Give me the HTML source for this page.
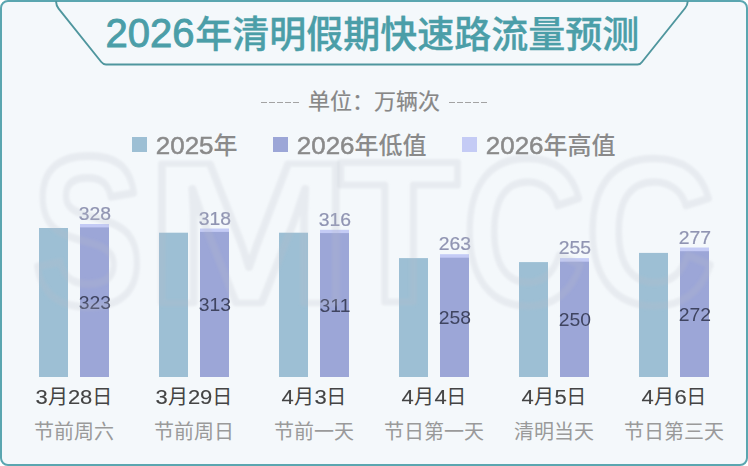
<!DOCTYPE html>
<html lang="zh-CN">
<head>
<meta charset="utf-8">
<title>2026年清明假期快速路流量预测</title>
<style>
*{margin:0;padding:0;box-sizing:border-box;}
html,body{width:748px;height:466px;overflow:hidden;background:#ffffff;}
body{position:relative;font-family:"Liberation Sans","Noto Sans CJK SC",sans-serif;}
.frame{position:absolute;left:0;top:0;width:748px;height:466px;border:2px solid #5aa6b0;border-radius:8px;background:#f4f8fb;}
svg.bg{position:absolute;left:0;top:0;}
.t{position:absolute;white-space:nowrap;line-height:1;}
.title{left:105.5px;top:13.5px;font-size:37px;font-weight:500;color:#4b9ea8;-webkit-text-stroke:0.35px #4b9ea8;}
.title .n0{font-size:40px;margin-right:0.7px;position:relative;top:-0.8px;-webkit-text-stroke:0.9px #4b9ea8;}
.title .n{letter-spacing:0px;}
.unit{left:308px;top:90.8px;font-size:22px;color:#878787;-webkit-text-stroke:0.2px #878787;}
.dash{position:absolute;top:101.7px;height:1.6px;width:38.4px;background:repeating-linear-gradient(90deg,#a3a3a3 0,#a3a3a3 6px,transparent 6px,transparent 8px);}
.leg{top:133.5px;font-size:24px;color:#8a8a8a;font-weight:500;}
.lr{display:inline-block;transform:scaleX(1.08);margin:0 2.1px;-webkit-text-stroke:0.5px #8a8a8a;}
.sq{position:absolute;width:15px;height:15px;}
.top,.in{font-size:17.6px;text-align:center;width:60px;transform:scaleX(1.1);}
.top{color:#9094b2;-webkit-text-stroke:0.2px #9094b2;}
.in{color:#3f4460;}

.date{font-size:20px;color:#444;font-weight:400;text-align:center;width:120px;}
.dr{display:inline-block;transform:scaleX(1.1);-webkit-text-stroke:0.12px #444;}
.sub{font-size:20px;color:#9a9a9a;text-align:center;width:120px;}
.wm{position:absolute;left:0;top:0;pointer-events:none;}
</style>
</head>
<body>
<div class="frame"></div>
<svg class="bg" width="748" height="466" viewBox="0 0 748 466">
  <path d="M56.2 1 L56.2 2.6 Q56.2 5.6 58.6 8.6 L101.3 62 Q103.3 64.5 106 64.5 L637.5 64.5 Q640.4 64.5 642 62 L685.2 8 Q687.6 5 687.6 2 L687.6 1" fill="none" stroke="#4f969e" stroke-width="1.9"/>
  <rect x="39" y="228.0" width="29" height="149.0" fill="#9dbfd4"/>
  <rect x="80" y="224.0" width="29" height="153.0" fill="#c4cbf5"/>
  <rect x="80" y="227.4" width="29" height="149.6" fill="#9ca6d7"/>
  <rect x="159" y="232.7" width="29" height="144.3" fill="#9dbfd4"/>
  <rect x="200" y="228.5" width="29" height="148.5" fill="#c4cbf5"/>
  <rect x="200" y="231.9" width="29" height="145.1" fill="#9ca6d7"/>
  <rect x="279" y="232.7" width="29" height="144.3" fill="#9dbfd4"/>
  <rect x="320" y="229.8" width="29" height="147.2" fill="#c4cbf5"/>
  <rect x="320" y="233.1" width="29" height="143.9" fill="#9ca6d7"/>
  <rect x="399" y="258.1" width="29" height="118.9" fill="#9dbfd4"/>
  <rect x="440" y="254.2" width="29" height="122.8" fill="#c4cbf5"/>
  <rect x="440" y="257.7" width="29" height="119.3" fill="#9ca6d7"/>
  <rect x="519" y="262.1" width="29" height="114.9" fill="#9dbfd4"/>
  <rect x="560" y="258.1" width="29" height="118.9" fill="#c4cbf5"/>
  <rect x="560" y="261.7" width="29" height="115.3" fill="#9ca6d7"/>
  <rect x="639" y="252.9" width="29" height="124.1" fill="#9dbfd4"/>
  <rect x="680" y="247.5" width="29" height="129.5" fill="#c4cbf5"/>
  <rect x="680" y="251.2" width="29" height="125.8" fill="#9ca6d7"/>
</svg>

<div class="t title"><span class="n0"><span class="n">202</span>6</span>年清明假期快速路流量预测</div>
<div class="dash" style="left:260.8px"></div>
<div class="t unit">单位：万辆次</div>
<div class="dash" style="left:449.3px"></div>

<div class="sq" style="left:132px;top:137px;background:#9dbfd4"></div>
<div class="t leg" style="left:156px"><span class="lr">2025</span>年</div>
<div class="sq" style="left:273px;top:137px;background:#9ca6d7"></div>
<div class="t leg" style="left:297px"><span class="lr">2026</span>年低值</div>
<div class="sq" style="left:462px;top:137px;background:#c4cbf5"></div>
<div class="t leg" style="left:486px"><span class="lr">2026</span>年高值</div>

<div class="t top" style="left:64.5px;top:206.2px">328</div>
<div class="t in" style="left:64.5px;top:295.1px">323</div>
<div class="t date" style="left:14.0px;top:387px"><span class="dr" style="margin:0 0.56px">3</span>月<span class="dr" style="margin:0 1.11px">28</span>日</div>
<div class="t sub" style="left:14.0px;top:421.7px">节前周六</div>
<div class="t top" style="left:184.5px;top:210.7px">318</div>
<div class="t in" style="left:184.5px;top:297.3px">313</div>
<div class="t date" style="left:134.0px;top:387px"><span class="dr" style="margin:0 0.56px">3</span>月<span class="dr" style="margin:0 1.11px">29</span>日</div>
<div class="t sub" style="left:134.0px;top:421.7px">节前周日</div>
<div class="t top" style="left:304.5px;top:212.0px">316</div>
<div class="t in" style="left:304.5px;top:297.9px">311</div>
<div class="t date" style="left:254.0px;top:387px"><span class="dr" style="margin:0 0.56px">4</span>月<span class="dr" style="margin:0 0.56px">3</span>日</div>
<div class="t sub" style="left:254.0px;top:421.7px">节前一天</div>
<div class="t top" style="left:424.5px;top:236.4px">263</div>
<div class="t in" style="left:424.5px;top:310.2px">258</div>
<div class="t date" style="left:374.0px;top:387px"><span class="dr" style="margin:0 0.56px">4</span>月<span class="dr" style="margin:0 0.56px">4</span>日</div>
<div class="t sub" style="left:374.0px;top:421.7px">节日第一天</div>
<div class="t top" style="left:544.5px;top:240.3px">255</div>
<div class="t in" style="left:544.5px;top:312.2px">250</div>
<div class="t date" style="left:494.0px;top:387px"><span class="dr" style="margin:0 0.56px">4</span>月<span class="dr" style="margin:0 0.56px">5</span>日</div>
<div class="t sub" style="left:494.0px;top:421.7px">清明当天</div>
<div class="t top" style="left:664.5px;top:229.7px">277</div>
<div class="t in" style="left:664.5px;top:307.0px">272</div>
<div class="t date" style="left:614.0px;top:387px"><span class="dr" style="margin:0 0.56px">4</span>月<span class="dr" style="margin:0 0.56px">6</span>日</div>
<div class="t sub" style="left:614.0px;top:421.7px">节日第三天</div>

<svg class="wm" width="748" height="466" viewBox="0 0 748 466">
 <defs><filter id="bl" x="-5%" y="-5%" width="110%" height="110%"><feGaussianBlur stdDeviation="1.2"/></filter></defs>
 <g filter="url(#bl)" font-family="Liberation Sans" font-weight="bold" fill="none" stroke-linejoin="round" stroke="rgba(185,190,198,0.21)">
  <text transform="translate(32.51 305.43) scale(0.8319 1.0674)" font-size="200" stroke-width="7.37">S</text>
  <text transform="translate(145.32 302.51) scale(1.2446 1.0146)" font-size="200" stroke-width="6.20">M</text>
  <text transform="translate(338.52 301.51) scale(0.9915 1.0074)" font-size="200" stroke-width="7.00">T</text>
  <text transform="translate(462.73 304.46) scale(0.8462 1.0426)" font-size="200" stroke-width="7.41">C</text>
  <text transform="translate(585.30 304.46) scale(0.9000 1.0426)" font-size="200" stroke-width="7.21">C</text>
 </g>
</svg>
</body>
</html>
